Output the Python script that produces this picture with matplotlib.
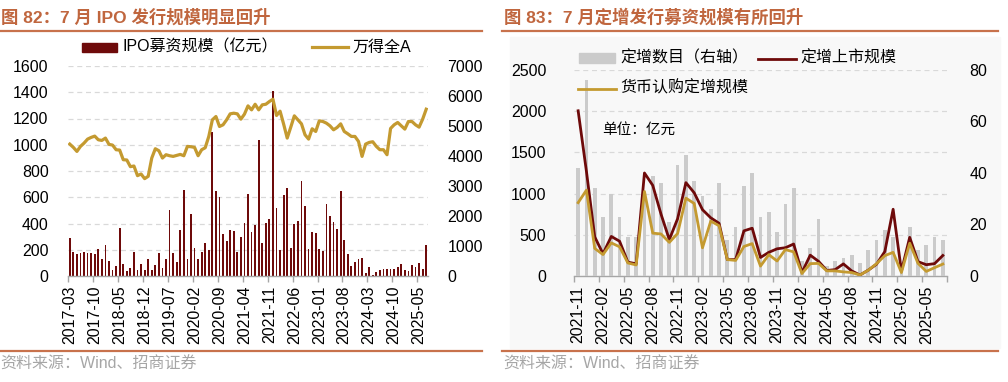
import matplotlib
matplotlib.use('Agg')
import matplotlib.pyplot as plt
import numpy as np
import pandas as pd
from matplotlib.patches import Rectangle
from matplotlib.lines import Line2D

plt.rcParams['font.family'] = ['Liberation Sans', 'Noto Sans CJK SC', 'DejaVu Sans']

# ---------------- data ----------------
ipo_months = pd.period_range('2017-03', '2025-07', freq='M').strftime('%Y-%m').tolist()
ipo_values = [286, 182, 167, 172, 185, 172, 172, 167, 203, 127,
              235, 111, 46, 78, 365, 94, 35, 58, 182, 46,
              91, 46, 127, 43, 86, 175, 58, 132, 506, 175,
              106, 347, 653, 132, 471, 210, 127, 185, 253, 195,
              1096, 646, 600, 322, 266, 354, 344, 180, 296, 405,
              625, 332, 385, 1040, 251, 403, 433, 1410, 516, 195,
              615, 668, 213, 395, 420, 727, 537, 205, 332, 324,
              205, 192, 552, 456, 415, 360, 646, 278, 167, 76,
              109, 132, 139, 23, 66, 8, 30, 46, 51, 56,
              56, 51, 66, 91, 43, 41, 81, 66, 101, 53,
              233]
wind_a = [4397, 4287, 4153, 4320, 4430, 4563, 4620, 4663, 4541, 4519,
          4597, 4387, 4364, 4209, 4197, 3876, 3867, 3645, 3666, 3345,
          3400, 3245, 3323, 3932, 4242, 4175, 3932, 4043, 4009, 3987,
          4020, 4053, 4009, 4320, 4309, 4287, 4009, 4209, 4275, 4652,
          5206, 5316, 4984, 5040, 5206, 5405, 5427, 5405, 5228, 5394,
          5671, 5538, 5725, 5538, 5705, 5725, 5816, 5893, 5350, 5494,
          5062, 4597, 4962, 5339, 5206, 5072, 4707, 4563, 4907, 4818,
          5173, 5150, 5095, 5006, 4873, 4951, 5072, 4818, 4740, 4652,
          4652, 4486, 3987, 4397, 4453, 4475, 4320, 4209, 4209, 4043,
          4918, 5040, 5117, 5006, 4896, 5150, 5150, 5040, 4962, 5228,
          5560]

pp_months = pd.period_range('2021-11', '2025-07', freq='M').strftime('%Y-%m').tolist()
pp_count = [42, 76, 34, 23, 32, 23, 15, 15, 30, 39,
            36, 21, 43, 47, 37, 31, 26, 36, 14, 19,
            35, 40, 23, 25, 17, 28, 34, 6, 11, 22,
            4, 6, 7, 8, 5, 10, 14, 18, 15, 2,
            19, 10, 12, 15, 14]
pp_listed = [2005, 1270, 475, 270, 480, 422, 168, 148, 1250, 1100,
             750, 442, 695, 1133, 1010, 805, 706, 640, 199, 199,
             548, 580, 225, 287, 330, 343, 388, 43, 253, 178,
             67, 77, 147, 62, 12, 71, 143, 297, 810, 60,
             469, 174, 137, 150, 249]
pp_cash = [890, 1042, 335, 260, 402, 354, 158, 134, 1026, 520,
           510, 408, 516, 945, 880, 342, 666, 610, 199, 189,
           358, 393, 120, 259, 182, 320, 293, 30, 150, 153,
           62, 62, 50, 42, 12, 70, 150, 247, 287, 42,
           398, 154, 56, 101, 145]

title_left = '图 82：7 月 IPO 发行规模明显回升'
title_right = '图 83：7 月定增发行募资规模有所回升'
source_text = '资料来源：Wind、招商证券'

# ---------------- style ----------------
BAR_RED = '#6E0A0A'
LINE_RED = '#6E0A0A'
GOLD = '#C49A30'
GRAY_BAR = '#CBCBCB'
TITLE_C = '#C0663E'
SEP_C = '#C8724C'
GRID_C = '#D9D9D9'
AX_C = '#A6A6A6'
FS = 11.5

W, H = 1008, 382
fig = plt.figure(figsize=(W / 100, H / 100), dpi=100)


def fx(px):
    return px / W


def fy(py):
    return 1 - py / H


def frame(ax):
    for s in ['left', 'right', 'top']:
        ax.spines[s].set_visible(False)
    ax.spines['bottom'].set_color(AX_C)
    ax.spines['bottom'].set_linewidth(1.0)


# right panel faint background
fig.add_artist(Rectangle((fx(510), fy(348)), fx(1000) - fx(510), fy(37) - fy(348),
                         transform=fig.transFigure, color='#F8F8F8', zorder=0))

# ---------------- left chart ----------------
ax1 = fig.add_axes([fx(68), fy(276), fx(428) - fx(68), fy(66) - fy(276)])
ax1.patch.set_visible(False)
x1 = np.arange(len(ipo_values))
ax1.set_axisbelow(True)
ax1.bar(x1, ipo_values, width=0.5, color=BAR_RED, zorder=2)
ax1.set_xlim(-0.5, len(x1) - 0.5)
ax1.set_ylim(0, 1600)
ax1.set_yticks(range(0, 1601, 200))
ax1.grid(axis='y', color=GRID_C, linestyle=(0, (4, 3)), linewidth=0.9)
frame(ax1)
ax1.tick_params(axis='y', length=0, pad=14, labelsize=FS)
major1 = list(range(0, len(x1), 7))
ax1.set_xticks(major1)
ax1.set_xticklabels([ipo_months[i] for i in major1], rotation=90, fontsize=FS)
ax1.set_xticks([i - 0.5 for i in major1], minor=True)
ax1.tick_params(axis='x', which='major', length=0, pad=7)
ax1.tick_params(axis='x', which='minor', length=4, color=AX_C, width=1.0)

ax1b = ax1.twinx()
ax1b.plot(x1, wind_a, color=GOLD, lw=2.3, solid_joinstyle='round')
ax1b.set_ylim(0, 7000)
ax1b.set_yticks(range(0, 7001, 1000))
for s in ax1b.spines.values():
    s.set_visible(False)
ax1b.tick_params(axis='y', length=0, pad=14, labelsize=FS)

# ---------------- right chart ----------------
ax2 = fig.add_axes([fx(574), fy(276), fx(947) - fx(574), fy(70) - fy(276)])
ax2.patch.set_visible(False)
x2 = np.arange(len(pp_count))
ax2.set_xlim(-0.5, len(x2) - 0.5)
ax2.set_ylim(0, 2500)
ax2.set_yticks(range(0, 2501, 500))
ax2.grid(axis='y', color=GRID_C, linestyle=(0, (4, 3)), linewidth=0.9)
frame(ax2)
ax2.tick_params(axis='y', length=0, pad=20, labelsize=FS)
major2 = list(range(0, len(x2), 3))
ax2.set_xticks(major2)
ax2.set_xticklabels([pp_months[i] for i in major2], rotation=90, fontsize=FS)
ax2.set_xticks([i - 0.5 for i in major2] + [len(x2) - 0.5], minor=True)
ax2.tick_params(axis='x', which='major', length=0, pad=7)
ax2.tick_params(axis='x', which='minor', length=4, color=AX_C, width=1.0)

ax2b = ax2.twinx()
ax2b.bar(x2, pp_count, width=0.45, color=GRAY_BAR)
ax2b.set_ylim(0, 80)
ax2b.set_yticks(range(0, 81, 20))
for s in ax2b.spines.values():
    s.set_visible(False)
ax2b.tick_params(axis='y', length=0, pad=16, labelsize=FS)

ax2c = ax2.twinx()
ax2c.plot(x2, pp_listed, color=LINE_RED, lw=2.0)
ax2c.plot(x2, pp_cash, color=GOLD, lw=2.0)
ax2c.set_ylim(0, 2500)
ax2c.set_yticks([])
for s in ax2c.spines.values():
    s.set_visible(False)

# ---------------- titles, separators, sources ----------------
fig.text(fx(1), fy(17), title_left, fontsize=12.5, fontweight='bold', color=TITLE_C,
         va='center', ha='left')
fig.text(fx(504), fy(17), title_right, fontsize=12.5, fontweight='bold', color=TITLE_C,
         va='center', ha='left')
for x0, x1_ in [(0, 482), (502, 998)]:
    for yy in (31, 351):
        fig.add_artist(Line2D([fx(x0), fx(x1_)], [fy(yy), fy(yy)], color=SEP_C, lw=1.6,
                              transform=fig.transFigure))
fig.text(fx(0), fy(364), source_text, fontsize=FS, color='#A6A6A6', va='center', ha='left')
fig.text(fx(503), fy(364), source_text, fontsize=FS, color='#A6A6A6', va='center', ha='left')

# ---------------- legends ----------------
fig.add_artist(Rectangle((fx(82), fy(52)), fx(117) - fx(82), fy(43) - fy(52),
                         transform=fig.transFigure, color=BAR_RED))
fig.text(fx(123), fy(47), 'IPO募资规模（亿元）', fontsize=FS, va='center', ha='left')
fig.add_artist(Line2D([fx(312), fx(348)], [fy(47), fy(47)], color=GOLD, lw=2.3,
                      transform=fig.transFigure))
fig.text(fx(352), fy(47), '万得全A', fontsize=FS, va='center', ha='left')

fig.add_artist(Rectangle((fx(579), fy(63)), fx(615) - fx(579), fy(53) - fy(63),
                         transform=fig.transFigure, color=GRAY_BAR))
fig.text(fx(620), fy(58), '定增数目（右轴）', fontsize=FS, va='center', ha='left')
fig.add_artist(Line2D([fx(758), fx(796)], [fy(59), fy(59)], color=LINE_RED, lw=2.0,
                      transform=fig.transFigure))
fig.text(fx(800), fy(58), '定增上市规模', fontsize=FS, va='center', ha='left')
fig.add_artist(Line2D([fx(578), fx(616)], [fy(89), fy(89)], color=GOLD, lw=2.0,
                      transform=fig.transFigure, zorder=5))
fig.text(fx(620), fy(88), '货币认购定增规模', fontsize=FS, va='center', ha='left')

fig.text(fx(602), fy(130), '单位：亿元', fontsize=10.5, va='center', ha='left')

fig.savefig('out.png', dpi=100)
